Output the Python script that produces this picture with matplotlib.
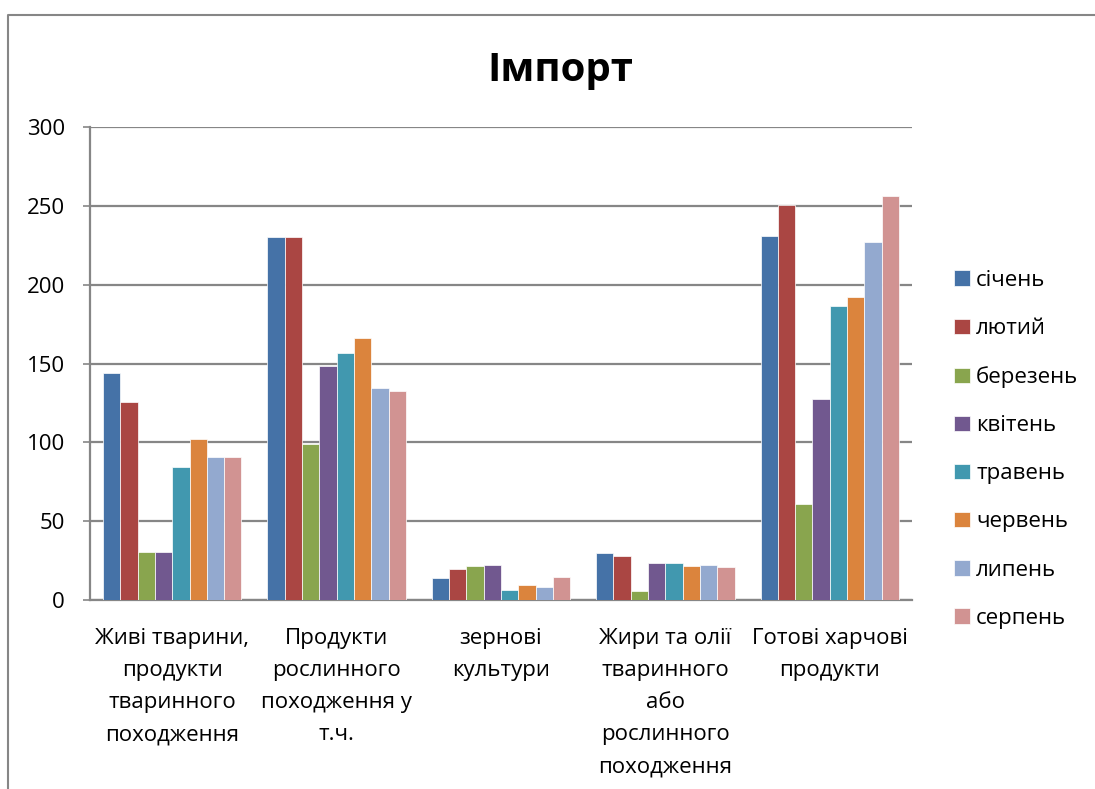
import numpy as np
import matplotlib
matplotlib.use('Agg')
import matplotlib.pyplot as plt
from matplotlib.lines import Line2D

plt.rcParams['font.family'] = ['Open Sans', 'DejaVu Sans']

categories = ['Живі тварини,\nпродукти\nтваринного\nпоходження',
              'Продукти\nрослинного\nпоходження у\nт.ч.',
              'зернові\nкультури',
              'Жири та олії\nтваринного\nабо\nрослинного\nпоходження',
              'Готові харчові\nпродукти']
months = ['січень', 'лютий', 'березень', 'квітень', 'травень', 'червень', 'липень', 'серпень']
colors = ['#4572A7', '#AA4643', '#89A54E', '#71588F', '#4198AF', '#DB843D', '#93A9CF', '#D19392']

# values per month, one number per category
sichen = [144.1, 230.3, 13.7, 30.0, 230.9]
lutyi = [125.3, 230.5, 19.4, 28.1, 250.8]
berezen = [30.4, 98.9, 21.3, 5.9, 60.8]
kviten = [30.4, 148.5, 22.4, 23.2, 127.4]
traven = [84.1, 156.8, 6.1, 23.2, 186.6]
cherven = [102.0, 165.9, 9.5, 21.3, 192.3]
lypen = [90.9, 134.6, 8.0, 22.0, 227.1]
serpen = [90.4, 132.5, 14.6, 21.1, 256.5]
series = [sichen, lutyi, berezen, kviten, traven, cherven, lypen, serpen]

yticks = [0, 50, 100, 150, 200, 250, 300]

fig = plt.figure(figsize=(10.95, 7.89), dpi=100, facecolor='white')
ax = fig.add_axes([90/1095, 1-600/789, 822/1095, 473/789])

x = np.arange(len(categories))
w = 1/9.5
for j, vals in enumerate(series):
    ax.bar(x + (j-3.5)*w, vals, width=w, color=colors[j], edgecolor='#ffffff',
           linewidth=0.5, label=months[j], zorder=3)

ax.set_xlim(-0.5, 4.5)
ax.set_ylim(0, 300)
ax.set_yticks(yticks)
ax.set_yticklabels([str(t) for t in yticks], fontsize=16)
ax.yaxis.grid(True, color='#868686', linewidth=1.6, zorder=0)
ax.set_xticks(x)
ax.set_xticklabels(categories, fontsize=16, linespacing=1.7, va='top')
ax.tick_params(axis='x', length=0, pad=20)
ax.tick_params(axis='y', length=5, width=1.2, color='#868686', pad=13)
for s in ['top', 'right']:
    ax.spines[s].set_visible(False)
ax.spines['left'].set_color('#868686')
ax.spines['left'].set_linewidth(1.6)
ax.spines['bottom'].set_color('#868686')
ax.spines['bottom'].set_linewidth(1.6)
ax.set_axisbelow(True)

fig.text(560/1095, 1-70/789, 'Імпорт', fontsize=29, fontweight='bold',
         ha='center', va='center')

leg = ax.legend(loc='upper left', bbox_to_anchor=(954/1095, 1-270/789),
                bbox_transform=fig.transFigure, frameon=False, fontsize=16,
                handlelength=0.7, handleheight=0.7, handletextpad=0.3,
                labelspacing=1.22, borderaxespad=0, borderpad=0)

# chart border
fig.add_artist(Line2D([8/1095, 8/1095, 1.0], [0.0, 1-15/789, 1-15/789],
                      transform=fig.transFigure, color='#868686', linewidth=1.5))

fig.savefig('out.png', dpi=100, facecolor='white')
